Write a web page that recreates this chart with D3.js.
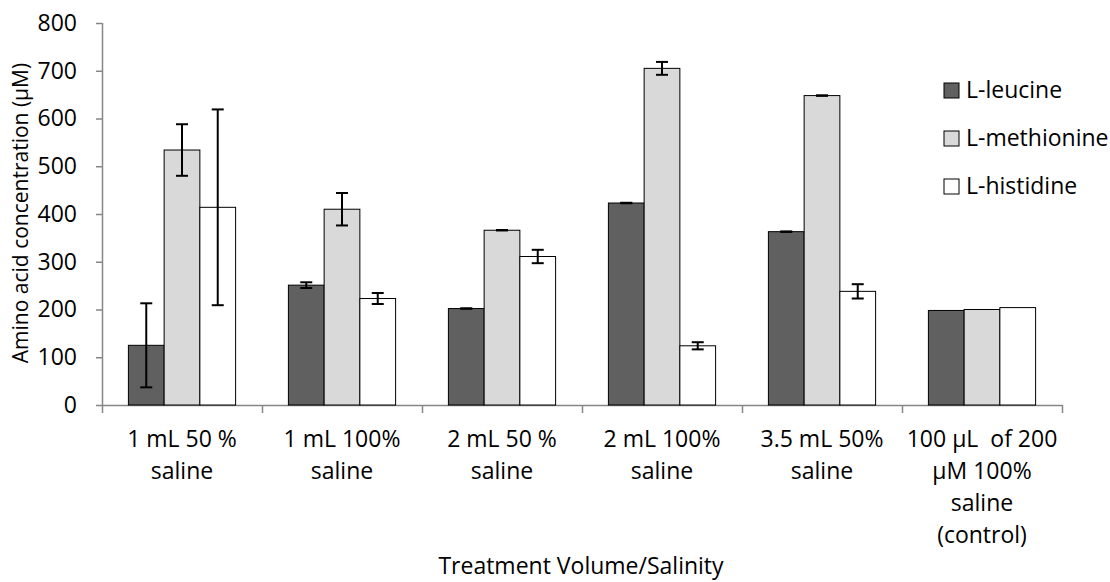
<!DOCTYPE html>
<html>
<head>
<meta charset="utf-8">
<script src="https://cdn.jsdelivr.net/npm/d3@7"></script>
<style>
  body { margin: 0; background: #fff; }
  text { font-family: "Open Sans", sans-serif; fill: #000; }
</style>
</head>
<body>
<svg width="1110" height="582"></svg>
<script>
// categories (x axis), each label split in lines
var categories = [
  ["1 mL 50 %", "saline"],
  ["1 mL 100%", "saline"],
  ["2 mL 50 %", "saline"],
  ["2 mL 100%", "saline"],
  ["3.5 mL 50%", "saline"],
  ["100 \u00b5L  of 200", "\u00b5M 100%", "saline", "(control)"]
];
var seriesNames = ["L-leucine", "L-methionine", "L-histidine"];
var seriesColors = ["#606060", "#d9d9d9", "#ffffff"];

// mean values
var leucine    = [125, 251, 202, 423, 363, 198];
var methionine = [534, 410, 366, 705, 648, 200];
var histidine  = [414, 223, 311, 124, 238, 204];

// error bar half heights
var leucineErr    = [88, 6, 0.5, 0.5, 0.5, 0];
var methionineErr = [54, 34, 0.5, 13.5, 0.5, 0];
var histidineErr  = [205, 11.5, 14, 7.5, 15, 0];

var yTicks = [0, 100, 200, 300, 400, 500, 600, 700, 800];

var values = [leucine, methionine, histidine];
var errs = [leucineErr, methionineErr, histidineErr];

var svg = d3.select("svg");

var mLeft = 102, mRight = 1062, mTop = 23, mBottom = 405;
var fs = "23px";

var y = d3.scaleLinear().domain([0, 800]).range([mBottom, mTop]);
var idx = d3.range(categories.length);
var x = d3.scaleBand().domain(idx).range([mLeft, mRight]).paddingInner(0.33).paddingOuter(0.165);
var xs = d3.scaleBand().domain(d3.range(seriesNames.length)).range([0, x.bandwidth()]);
var xEdge = d3.scaleLinear().domain([0, categories.length]).range([mLeft, mRight]);

// y axis
var yAxis = svg.append("g")
  .attr("transform", "translate(" + mLeft + ",0)")
  .call(d3.axisLeft(y).tickValues(yTicks).tickSize(6).tickPadding(19));
yAxis.selectAll("text").style("font-size", fs).style("font-family", "'Open Sans', sans-serif");

// x axis with ticks on category edges
var xAxis = svg.append("g")
  .attr("transform", "translate(0," + mBottom + ")")
  .call(d3.axisBottom(xEdge).tickValues(d3.range(categories.length + 1)).tickSize(8).tickFormat(""));

svg.selectAll(".domain, .tick line").attr("stroke", "#868686").attr("stroke-width", 1.5);
yAxis.select(".domain").attr("d", "M0.5," + mTop + "V" + mBottom);
xAxis.select(".domain").attr("d", "M" + mLeft + ",0.5H" + mRight);

// bars
var groups = svg.selectAll(".grp")
  .data(idx)
  .enter().append("g")
  .attr("transform", function(i) { return "translate(" + x(i) + ",0)"; });

groups.selectAll("rect")
  .data(function(i) { return values.map(function(s, k) { return {k: k, v: s[i], e: errs[k][i]}; }); })
  .enter().append("rect")
  .attr("x", function(d) { return xs(d.k); })
  .attr("width", xs.bandwidth())
  .attr("y", function(d) { return y(d.v); })
  .attr("height", function(d) { return mBottom - y(d.v); })
  .attr("fill", function(d) { return seriesColors[d.k]; })
  .attr("stroke", "#000")
  .attr("stroke-width", 1);

// error bars
var eb = groups.selectAll(".err")
  .data(function(i) { return values.map(function(s, k) { return {k: k, v: s[i], e: errs[k][i]}; }).filter(function(d) { return d.e > 0; }); })
  .enter().append("g")
  .attr("transform", function(d) { return "translate(" + (xs(d.k) + xs.bandwidth() / 2) + ",0)"; });
eb.append("line")
  .attr("y1", function(d) { return y(d.v + d.e); })
  .attr("y2", function(d) { return y(d.v - d.e); })
  .attr("stroke", "#000").attr("stroke-width", 2);
eb.append("line")
  .attr("x1", -6).attr("x2", 6)
  .attr("y1", function(d) { return y(d.v + d.e); })
  .attr("y2", function(d) { return y(d.v + d.e); })
  .attr("stroke", "#000").attr("stroke-width", 2);
eb.append("line")
  .attr("x1", -6).attr("x2", 6)
  .attr("y1", function(d) { return y(d.v - d.e); })
  .attr("y2", function(d) { return y(d.v - d.e); })
  .attr("stroke", "#000").attr("stroke-width", 2);

// category labels
var lab = svg.selectAll(".cat")
  .data(idx)
  .enter().append("text")
  .attr("text-anchor", "middle")
  .style("font-size", fs)
  .attr("transform", function(i) { return "translate(" + (x(i) + x.bandwidth() / 2) + ",447)"; });
lab.selectAll("tspan")
  .data(function(i) { return categories[i]; })
  .enter().append("tspan")
  .attr("x", 0)
  .attr("y", function(d, j) { return j * 32; })
  .style("white-space", "pre")
  .text(function(d) { return d; });

// axis titles
svg.append("text")
  .attr("text-anchor", "middle")
  .style("font-size", "21px")
  .attr("transform", "translate(28,213) rotate(-90)")
  .text("Amino acid concentration (\u00b5M)");

svg.append("text")
  .attr("x", 581)
  .attr("y", 574)
  .attr("text-anchor", "middle")
  .style("font-size", fs)
  .text("Treatment Volume/Salinity");

// legend
var legend = svg.selectAll(".leg")
  .data(seriesNames)
  .enter().append("g")
  .attr("transform", function(d, i) { return "translate(944," + (83 + i * 48) + ")"; });
legend.append("rect")
  .attr("width", 15).attr("height", 15)
  .attr("fill", function(d, i) { return seriesColors[i]; })
  .attr("stroke", "#000").attr("stroke-width", 1);
legend.append("text")
  .attr("x", 22).attr("y", 15)
  .style("font-size", fs)
  .text(function(d) { return d; });
</script>
</body>
</html>
